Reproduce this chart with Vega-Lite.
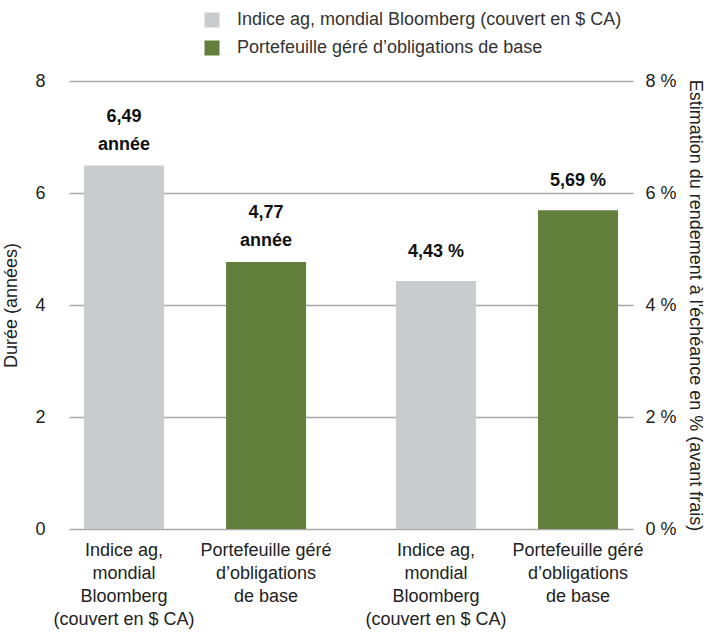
{
  "$schema": "https://vega.github.io/schema/vega-lite/v6.json",
  "width": 564,
  "height": 448,
  "autosize": {"type": "none"},
  "padding": {"left": 69, "top": 81, "right": 79, "bottom": 104},
  "background": "white",
  "config": {
    "view": {"stroke": null},
    "font": "Liberation Sans",
    "axis": {"labelFont": "Liberation Sans", "titleFont": "Liberation Sans", "labelFontSize": 18, "titleFontSize": 18, "titleFontWeight": "normal", "labelColor": "#222222", "titleColor": "#222222"},
    "legend": {"labelFont": "Liberation Sans", "labelFontSize": 18, "labelColor": "#333333"}
  },
  "data": {
    "values": [
      {"group": "Durée", "series": "Indice ag, mondial Bloomberg (couvert en $ CA)", "value": 6.49, "label": "6,49\nannée", "xlabel": "Indice ag,\nmondial\nBloomberg\n(couvert en $ CA)"},
      {"group": "Durée", "series": "Portefeuille géré d’obligations de base", "value": 4.77, "label": "4,77\nannée", "xlabel": "Portefeuille géré\nd’obligations\nde base"},
      {"group": "Rendement", "series": "Indice ag, mondial Bloomberg (couvert en $ CA)", "value": 4.43, "label": "4,43 %", "xlabel": "Indice ag,\nmondial\nBloomberg\n(couvert en $ CA)"},
      {"group": "Rendement", "series": "Portefeuille géré d’obligations de base", "value": 5.69, "label": "5,69 %", "xlabel": "Portefeuille géré\nd’obligations\nde base"}
    ]
  },
  "encoding": {
    "x": {"field": "group", "type": "nominal", "sort": ["Durée", "Rendement"], "axis": null, "scale": {"paddingInner": 0.288, "paddingOuter": 0.048}},
    "xOffset": {"field": "series", "type": "nominal", "sort": ["Indice ag, mondial Bloomberg (couvert en $ CA)", "Portefeuille géré d’obligations de base"], "scale": {"paddingInner": 0.437, "paddingOuter": 0}}
  },
  "layer": [
    {
      "transform": [{"filter": "datum.group == 'Durée'"}],
      "mark": {"type": "bar"},
      "encoding": {
        "y": {"field": "value", "type": "quantitative", "scale": {"domain": [0, 8]},
          "axis": {"title": "Durée (années)", "values": [0, 2, 4, 6, 8], "ticks": false, "domain": false, "labelPadding": 24, "titlePadding": 14, "grid": true, "gridColor": "#a9a9a9", "gridWidth": 1.6}},
        "color": {"field": "series", "type": "nominal", "sort": ["Indice ag, mondial Bloomberg (couvert en $ CA)", "Portefeuille géré d’obligations de base"],
          "scale": {"range": ["#c9cbce", "#627f3c"]},
          "legend": {"title": null, "orient": "none", "legendX": 134, "legendY": -70, "direction": "vertical", "symbolType": "square", "symbolSize": 225, "symbolStrokeWidth": 0, "rowPadding": 10, "labelOffset": 16, "labelLimit": 600}}
      }
    },
    {
      "transform": [{"filter": "datum.group == 'Rendement'"}],
      "mark": {"type": "bar"},
      "encoding": {
        "y": {"field": "value", "type": "quantitative", "scale": {"domain": [0, 8]},
          "axis": {"orient": "right", "title": "Estimation du rendement à l'échéance en % (avant frais)", "values": [0, 2, 4, 6, 8], "labelExpr": "datum.value + ' %'", "ticks": false, "domain": false, "grid": false, "labelPadding": 12, "titlePadding": 9}},
        "color": {"field": "series", "type": "nominal", "legend": null}
      }
    },
    {
      "transform": [{"filter": "datum.group == 'Durée'"}],
      "mark": {"type": "text", "baseline": "bottom", "dy": -40, "fontSize": 18, "fontWeight": "bold", "lineHeight": 28, "color": "#111111", "lineBreak": "\n"},
      "encoding": {
        "y": {"field": "value", "type": "quantitative", "scale": {"domain": [0, 8]}, "axis": null},
        "text": {"field": "label"}
      }
    },
    {
      "transform": [{"filter": "datum.group == 'Rendement'"}],
      "mark": {"type": "text", "baseline": "bottom", "dy": -20, "fontSize": 18, "fontWeight": "bold", "lineHeight": 28, "color": "#111111", "lineBreak": "\n"},
      "encoding": {
        "y": {"field": "value", "type": "quantitative", "scale": {"domain": [0, 8]}, "axis": null},
        "text": {"field": "label"}
      }
    },
    {
      "mark": {"type": "text", "baseline": "top", "dy": 13, "fontSize": 18, "lineHeight": 23, "color": "#222222", "lineBreak": "\n"},
      "encoding": {
        "y": {"datum": 0, "type": "quantitative", "scale": {"domain": [0, 8]}, "axis": null},
        "text": {"field": "xlabel"}
      }
    }
  ],
  "resolve": {"scale": {"y": "independent"}}
}
